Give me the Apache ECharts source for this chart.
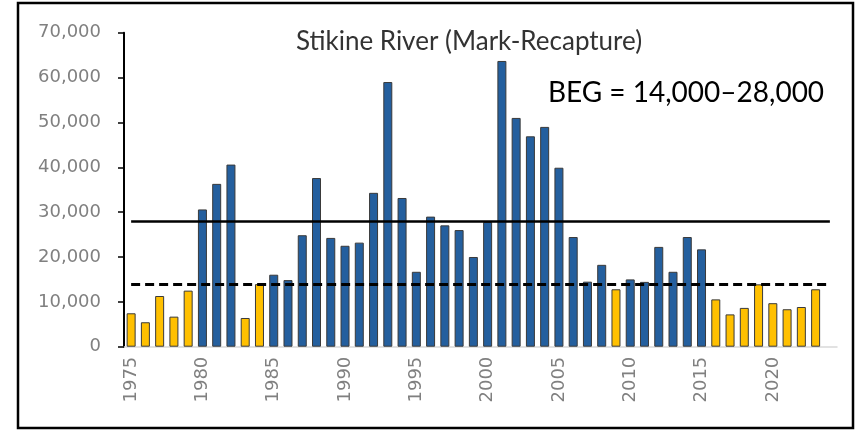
<!DOCTYPE html>
<html>
<head>
<meta charset="utf-8">
<script src="https://cdn.jsdelivr.net/npm/echarts@6/dist/echarts.min.js"></script>
<style>
  html, body { margin: 0; padding: 0; background: #fff; }
  #chart { width: 858px; height: 433px; }
</style>
</head>
<body>
<div id="chart"></div>
<script>
// years on the axis (2024 left empty, the goal lines run out to it)
const years = []
for (let y = 1975; y <= 2024; y++) years.push(String(y))

// escapement
const escapement = [
  7450, 5450, 11300, 6700, 12500, 30600, 36300, 40600, 6400, 13950,
  16050, 14850, 24850, 37600, 24250, 22500, 23200, 34300, 59000, 33150,
  16700, 29000, 27050, 26000, 20000, 27800, 63700, 51000, 46900, 49000,
  39900, 24450, 14500, 18250, 12800, 15000, 14450, 22250, 16700, 24450,
  21700, 10550, 7200, 8650, 13900, 9700, 8350, 8850, 12800, null
]

const goalLow = 14000
const goalHigh = 28000
const yTicks = [0, 10000, 20000, 30000, 40000, 50000, 60000, 70000]

const blue = '#245F9E'
const gold = '#FFC000'

const barData = escapement.map(function (v) {
  if (v == null) return null
  return { value: v, itemStyle: { color: v < goalLow ? gold : blue } }
})

const myChart = echarts.init(document.getElementById('chart'))
myChart.setOption({
  animation: false,
  grid: { left: 124, right: 21, top: 32.7, bottom: 86.3 },
  title: [
    {
      text: 'Stikine River (Mark-Recapture)',
      left: 464, top: 24, textAlign: 'center',
      textStyle: { fontFamily: 'Lato', fontWeight: 'normal', fontSize: 26, color: '#333' }
    },
    {
      text: 'BEG = 14,000\u201328,000',
      left: 681, top: 74, textAlign: 'center',
      textStyle: { fontFamily: 'Lato', fontWeight: 'normal', fontSize: 28, color: '#000' }
    }
  ],
  graphic: [
    {
      type: 'rect',
      shape: { x: 18, y: 3, width: 835, height: 425 },
      style: { fill: 'none', stroke: '#000', lineWidth: 2.5 },
      z: 100
    }
  ],
  xAxis: {
    type: 'category',
    data: years,
    axisLine: { lineStyle: { color: '#d9d9d9', width: 1.5 } },
    axisTick: { show: false },
    axisLabel: {
      rotate: 90,
      interval: 4,
      margin: 10,
      color: '#808080',
      fontFamily: 'DejaVu Sans',
      fontSize: 18
    }
  },
  yAxis: {
    type: 'value',
    min: yTicks[0],
    max: yTicks[yTicks.length - 1],
    interval: 10000,
    splitLine: { show: false },
    axisLine: { show: true, lineStyle: { color: '#000', width: 2 } },
    axisTick: { show: true, length: 6, lineStyle: { color: '#000', width: 1.5 } },
    axisLabel: {
      margin: 23,
      color: '#808080',
      fontFamily: 'DejaVu Sans',
      fontSize: 18,
      formatter: function (v) { return v.toLocaleString('en-US') }
    }
  },
  series: [
    {
      type: 'bar',
      data: barData,
      barWidth: 9,
      itemStyle: { borderColor: '#3a3a3a', borderWidth: 1 },
      markLine: {
        symbol: 'none',
        silent: true,
        label: { show: false },
        data: [
          [
            { coord: [years[0], goalHigh], lineStyle: { color: '#000', width: 2.5, type: 'solid' } },
            { coord: [years[years.length - 1], goalHigh] }
          ],
          [
            { coord: [years[0], goalLow], lineStyle: { color: '#000', width: 3, type: [9, 5] } },
            { coord: [years[years.length - 1], goalLow] }
          ]
        ]
      }
    }
  ]
})
</script>
</body>
</html>
